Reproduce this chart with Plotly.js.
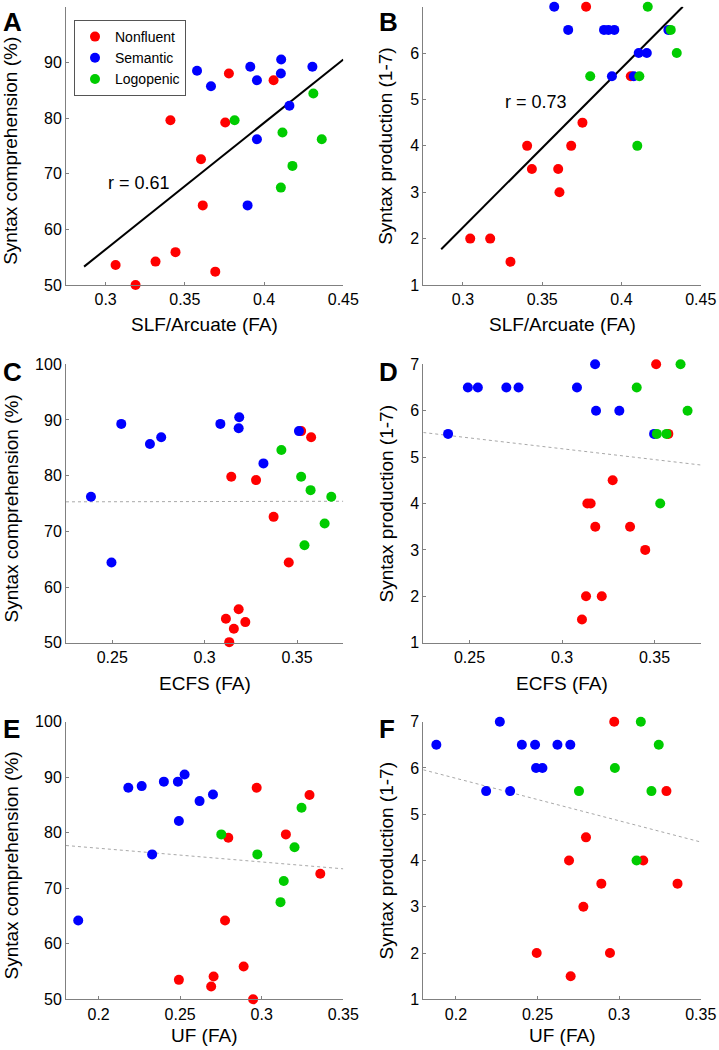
<!DOCTYPE html>
<html>
<head>
<meta charset="utf-8">
<script src="https://cdn.plot.ly/plotly-3.0.1.min.js"></script>
<style>html,body{margin:0;padding:0;background:#fff;}#chart{width:719px;height:1050px;}</style>
</head>
<body>
<div id="chart"></div>
<script>
// ---------- Data ----------
const groups = ["Nonfluent", "Semantic", "Logopenic"];

// Panel A: SLF/Arcuate FA vs syntax comprehension
const A_nonfluent_x = [0.3778,0.406,0.3409,0.3755,0.3602,0.3613,0.3063,0.3315,0.3441,0.3692,0.3189];
const A_nonfluent_y = [88.0,86.8,79.6,79.2,72.6,64.3,53.6,54.2,55.9,52.4,50.0];
const A_semantic_x = [0.3577,0.3665,0.3913,0.3955,0.4108,0.4106,0.4305,0.416,0.3955,0.3896];
const A_semantic_y = [88.5,85.7,89.2,86.8,90.5,88.0,89.2,82.2,76.2,64.3];
const A_logopenic_x = [0.3814,0.4311,0.4116,0.4364,0.4179,0.4106];
const A_logopenic_y = [79.6,84.4,77.4,76.2,71.4,67.5];
const A_fit_x = [0.2864,0.45];
const A_fit_y = [53.3,90.5];

// Panel B: SLF/Arcuate FA vs syntax production
const B_nonfluent_x = [0.3777,0.4059,0.3754,0.3405,0.3683,0.3435,0.3601,0.3609,0.3046,0.3172,0.3300];
const B_nonfluent_y = [7,5.5,4.5,4,4,3.5,3.5,3,2,2,1.5];
const B_semantic_x = [0.3576,0.3664,0.389,0.3918,0.3955,0.4296,0.4109,0.416,0.394,0.4078];
const B_semantic_y = [7,6.5,6.5,6.5,6.5,6.5,6,6,5.5,5.5];
const B_logopenic_x = [0.4166,0.4311,0.4349,0.3803,0.4113,0.410];
const B_logopenic_y = [7,6.5,6,5.5,5.5,4];
const B_fit_x = [0.2863,0.4387];
const B_fit_y = [1.77,7.0];

// Panel C: ECFS FA vs syntax comprehension
const C_nonfluent_x = [0.3522,0.3576,0.3144,0.3278,0.3373,0.3455,0.3115,0.3184,0.3158,0.322,0.3133];
const C_nonfluent_y = [88.0,86.9,79.8,79.2,72.6,64.4,54.3,56.0,52.5,53.7,50.1];
const C_semantic_x = [0.2385,0.2496,0.2549,0.2704,0.2765,0.3085,0.3187,0.3184,0.3318,0.351];
const C_semantic_y = [76.2,64.4,89.3,85.7,86.9,89.3,90.5,88.5,82.2,88.0];
const C_logopenic_x = [0.3415,0.3522,0.3573,0.3685,0.3649,0.354];
const C_logopenic_y = [84.6,79.8,77.4,76.2,71.4,67.5];
const C_fit_x = [0.225,0.375];
const C_fit_y = [75.3,75.4];

// Panel D: ECFS FA vs syntax production
const D_nonfluent_x = [0.3509,0.3575,0.3274,0.3137,0.3155,0.318,0.3368,0.345,0.313,0.3215,0.3108];
const D_nonfluent_y = [7,5.5,4.5,4,4,3.5,3.5,3,2,2,1.5];
const D_semantic_x = [0.3179,0.2491,0.2545,0.2699,0.2765,0.3081,0.3184,0.331,0.2384,0.3498];
const D_semantic_y = [7,6.5,6.5,6.5,6.5,6.5,6,6,5.5,5.5];
const D_logopenic_x = [0.3641,0.3404,0.3679,0.3513,0.3565,0.3531];
const D_logopenic_y = [7,6.5,6,5.5,5.5,4];
const D_fit_x = [0.225,0.375];
const D_fit_y = [5.53,4.83];

// Panel E: UF FA vs syntax comprehension
const E_nonfluent_x = [0.2969,0.3293,0.2795,0.3148,0.3359,0.2775,0.2492,0.2705,0.269,0.2889,0.2947];
const E_nonfluent_y = [88.1,86.8,79.1,79.7,72.6,64.2,53.5,54.1,52.3,55.9,50.0];
const E_semantic_x = [0.1875,0.2182,0.2264,0.24,0.2486,0.2527,0.2619,0.2701,0.2492,0.2328];
const E_semantic_y = [64.2,88.1,88.4,89.2,89.2,90.5,85.7,86.9,82.1,76.1];
const E_logopenic_x = [0.2752,0.3244,0.3201,0.2973,0.3135,0.3115];
const E_logopenic_y = [79.7,84.5,77.4,76.1,71.3,67.5];
const E_fit_x = [0.18,0.35];
const E_fit_y = [77.7,73.5];

// Panel F: UF FA vs syntax production
const F_nonfluent_x = [0.297,0.329,0.2797,0.2693,0.3148,0.2891,0.3358,0.2781,0.2495,0.2944,0.2703];
const F_nonfluent_y = [7,5.5,4.5,4,4,3.5,3.5,3,2,2,1.5];
const F_semantic_x = [0.2269,0.188,0.2404,0.2485,0.2622,0.2701,0.2491,0.253,0.2185,0.2332];
const F_semantic_y = [7,6.5,6.5,6.5,6.5,6.5,6,6,5.5,5.5];
const F_logopenic_x = [0.3133,0.3243,0.2974,0.2754,0.3198,0.3107];
const F_logopenic_y = [7,6.5,6,5.5,5.5,4];
const F_fit_x = [0.18,0.35];
const F_fit_y = [5.96,4.40];

// Tick labels
const slfTicks = ["0.3","0.35","0.4","0.45"];
const ecfsTicks = ["0.25","0.3","0.35"];
const ufTicks = ["0.2","0.25","0.3","0.35"];
const compTicks = ["50","60","70","80","90","100"];
const prodTicks = ["1","2","3","4","5","6","7"];

const panelLetters = ["A","B","C","D","E","F"];
const xTitles = ["SLF/Arcuate (FA)","SLF/Arcuate (FA)","ECFS (FA)","ECFS (FA)","UF (FA)","UF (FA)"];
const yTitles = ["Syntax comprehension (%)","Syntax production (1-7)","Syntax comprehension (%)","Syntax production (1-7)","Syntax comprehension (%)","Syntax production (1-7)"];
const rTexts = ["r = 0.61","r = 0.73"];

// ---------- Build ----------
const colors = {Nonfluent:"#ff0000", Semantic:"#0000ff", Logopenic:"#00cc00"};
const FONT = "Liberation Sans, Arial, Helvetica, sans-serif";

const panels = [
  {nf:[A_nonfluent_x,A_nonfluent_y], se:[A_semantic_x,A_semantic_y], lo:[A_logopenic_x,A_logopenic_y], fit:[A_fit_x,A_fit_y], solid:true},
  {nf:[B_nonfluent_x,B_nonfluent_y], se:[B_semantic_x,B_semantic_y], lo:[B_logopenic_x,B_logopenic_y], fit:[B_fit_x,B_fit_y], solid:true},
  {nf:[C_nonfluent_x,C_nonfluent_y], se:[C_semantic_x,C_semantic_y], lo:[C_logopenic_x,C_logopenic_y], fit:[C_fit_x,C_fit_y], solid:false},
  {nf:[D_nonfluent_x,D_nonfluent_y], se:[D_semantic_x,D_semantic_y], lo:[D_logopenic_x,D_logopenic_y], fit:[D_fit_x,D_fit_y], solid:false},
  {nf:[E_nonfluent_x,E_nonfluent_y], se:[E_semantic_x,E_semantic_y], lo:[E_logopenic_x,E_logopenic_y], fit:[E_fit_x,E_fit_y], solid:false},
  {nf:[F_nonfluent_x,F_nonfluent_y], se:[F_semantic_x,F_semantic_y], lo:[F_logopenic_x,F_logopenic_y], fit:[F_fit_x,F_fit_y], solid:false}
];

const W = 719, H = 1050;
// pixel geometry of the panels
const colPx = [[66, 343.3],[423.3, 700.7]];
const rowPx = [[6.7, 285],[364.3, 642.7],[721.7, 999.3]];
const colDom = colPx.map(c => [c[0]/W, c[1]/W]);
const rowDom = rowPx.map(r => [1-r[1]/H, 1-r[0]/H]);
const xTitleY = [324.5, 683.3, 1035.5];
const yTitleX = [11, 386];
const yTitleShift = [5, 0];
const xRanges = [[0.275,0.45],[0.275,0.45],[0.225,0.375],[0.225,0.375],[0.18,0.35],[0.18,0.35]];
const xTickTexts = [slfTicks,slfTicks,ecfsTicks,ecfsTicks,ufTicks,ufTicks];
const yRanges = [[50,100],[1,7],[50,100],[1,7],[50,100],[1,7]];
const yTickTexts = [compTicks,prodTicks,compTicks,prodTicks,compTicks,prodTicks];

const data = [];
const layout = {
  width: W, height: H, autosize:false,
  margin:{l:0,r:0,t:0,b:0},
  paper_bgcolor:"#ffffff", plot_bgcolor:"#ffffff",
  font:{family:FONT, size:16, color:"#000"},
  showlegend:true,
  legend:{x:74/W, y:1-20/H, xanchor:"left", yanchor:"top", bgcolor:"#fff",
          bordercolor:"#555", borderwidth:1, font:{size:14, color:"#000", family:FONT},
          itemwidth:30, tracegroupgap:0},
  annotations:[]
};

panels.forEach((p, i) => {
  const n = i+1;
  const xa = "x"+(n===1?"":n), ya = "y"+(n===1?"":n);
  data.push({type:"scatter", mode:"lines", x:p.fit[0], y:p.fit[1], xaxis:xa, yaxis:ya,
    line: p.solid ? {color:"#000", width:2} : {color:"#a8a8a8", width:1, dash:"dot"},
    showlegend:false, hoverinfo:"skip", cliponaxis:false});
  const sets = [["Nonfluent",p.nf],["Semantic",p.se],["Logopenic",p.lo]];
  sets.forEach(([g, xy]) => {
    data.push({type:"scatter", mode:"markers", name:g, x:xy[0], y:xy[1], xaxis:xa, yaxis:ya,
      marker:{color:colors[g], size:10, line:{width:0}}, showlegend:(n===1), cliponaxis:false});
  });
  const col = i%2, row = Math.floor(i/2);
  const yTickVals = yTickTexts[i].map(Number);
  const xTickVals = xTickTexts[i].map(Number);
  layout["xaxis"+(n===1?"":n)] = {
    domain: colDom[col], anchor: ya, range: xRanges[i],
    showgrid:false, zeroline:false, showline:true, linecolor:"#808080", linewidth:1,
    ticks:"inside", ticklen:3, tickcolor:"#808080", tickvals:xTickVals, ticktext:xTickTexts[i],
    tickfont:{size:16, color:"#000", family:FONT},
    automargin:false, fixedrange:true
  };
  layout["yaxis"+(n===1?"":n)] = {
    domain: rowDom[row], anchor: xa, range: yRanges[i],
    showgrid:false, zeroline:false, showline:true, linecolor:"#808080", linewidth:1,
    ticks:"inside", ticklen:3, tickcolor:"#808080", tickvals:yTickVals, ticktext:yTickTexts[i],
    tickfont:{size:16, color:"#000", family:FONT},
    automargin:false, fixedrange:true
  };
  // axis titles as text annotations (positioned like the original)
  layout.annotations.push({xref:"paper", yref:"paper",
    x:(colPx[col][0]+colPx[col][1])/2/W, y:1-xTitleY[row]/H, xanchor:"center", yanchor:"middle",
    text:xTitles[i], showarrow:false, font:{size:19, color:"#000", family:FONT}});
  layout.annotations.push({xref:"paper", yref:"paper",
    x:yTitleX[col]/W, y:1-((rowPx[row][0]+rowPx[row][1])/2 + yTitleShift[col])/H,
    xanchor:"center", yanchor:"middle", textangle:-90,
    text:yTitles[i], showarrow:false, font:{size:19, color:"#000", family:FONT}});
  // panel letter
  const lx = col===0 ? 1/W : 377/W;
  const ly = row===0 ? 1-5/H : (row===1 ? 1-355/H : 1-712/H);
  layout.annotations.push({xref:"paper", yref:"paper", x:lx, y:ly, xanchor:"left", yanchor:"top",
    text:"<b>"+panelLetters[i]+"</b>", showarrow:false, font:{size:26, color:"#000", family:FONT}});
});

layout.annotations.push({xref:"x", yref:"y", x:0.321, y:68.4, text:rTexts[0], showarrow:false,
  font:{size:18,color:"#000",family:FONT}});
layout.annotations.push({xref:"x2", yref:"y2", x:0.346, y:4.94, text:rTexts[1], showarrow:false,
  font:{size:18,color:"#000",family:FONT}});

Plotly.newPlot("chart", data, layout, {staticPlot:true, displayModeBar:false});
</script>
</body>
</html>
